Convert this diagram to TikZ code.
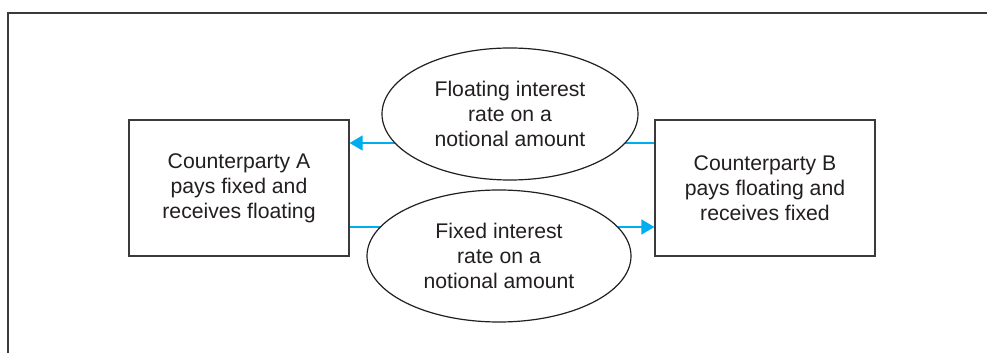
\documentclass[tikz,border=0pt]{standalone}
\usepackage{fontspec}
\setmainfont{Liberation Sans}
\usetikzlibrary{shapes.geometric,arrows.meta}
\definecolor{txtgray}{HTML}{231F20}
\definecolor{linegray}{HTML}{3A3A3A}
\definecolor{flowcyan}{HTML}{00AEEF}
\tikzset{
  partybox/.style={draw=linegray, line width=0.6pt, fill=white, rectangle,
    minimum width=110pt, minimum height=68pt, inner sep=0pt, align=center,
    text=txtgray, font=\fontsize{10.6pt}{12.5pt}\selectfont},
  rateoval/.style={draw=txtgray, line width=0.6pt, fill=white, ellipse,
    inner sep=0pt, align=center, text=txtgray,
    font=\fontsize{10.6pt}{12.5pt}\selectfont},
  flow/.style={draw=flowcyan, line width=0.6pt,
    -{Triangle[length=6.5pt,width=7.5pt,fill=flowcyan]}}
}
\begin{document}
\begin{tikzpicture}[x=0.5pt,y=-0.5pt]
\useasboundingbox (0,0) rectangle (987,353);
% frame
\draw[line width=1.3pt, linegray] (8,353) -- (8,13) -- (987,13);
% boxes
\node[partybox] (A) at (239,188) {Counterparty A\\pays fixed and\\receives floating};
\node[partybox] (B) at (765,188) {Counterparty B\\pays floating and\\receives fixed};
% flows
\draw[flow] ([yshift=22.5pt]B.west) -- ([yshift=22.5pt]A.east);
\draw[flow] ([yshift=-19.5pt]A.east) -- ([yshift=-19.5pt]B.west);
% ovals
\node[rateoval, minimum width=128pt, minimum height=66pt] (F) at (510,114)
  {Floating interest\\rate on a\\notional amount};
\node[rateoval, minimum width=132pt, minimum height=66pt] (X) at (499,256)
  {Fixed interest\\rate on a\\notional amount};
\end{tikzpicture}
\end{document}
